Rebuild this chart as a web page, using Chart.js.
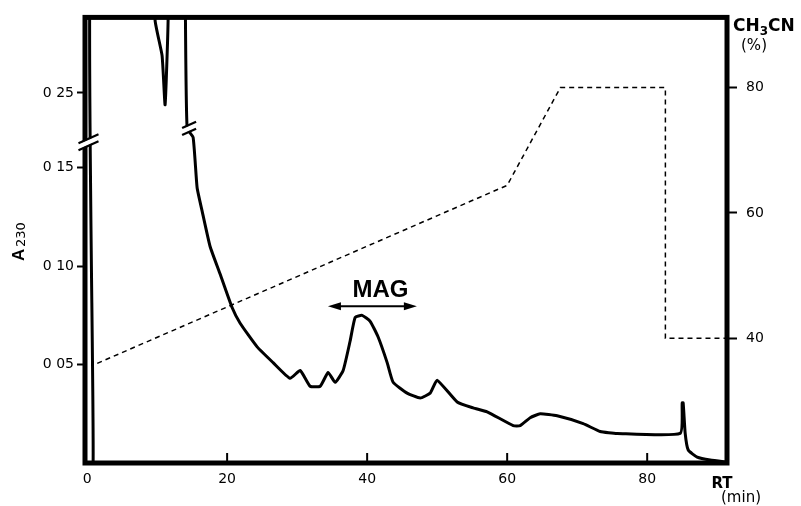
<!DOCTYPE html>
<html>
<head>
<meta charset="utf-8">
<script src="https://cdn.jsdelivr.net/npm/chart.js@4"></script>
<style>
  html, body { margin: 0; padding: 0; background: #fff; }
</style>
</head>
<body>
<canvas id="chart" width="801" height="506"></canvas>
<script>
// absorbance trace (values above the axis break are in plot space)
const rtMin = [0, 0.86, 0.86, 9.6, 9.71, 10.71, 11.14, 11.57, 11.6, 14.0,
  14.05, 14.29, 15.14, 15.71, 16.43, 17.57, 19.0, 20.71, 21.86, 24.29,
  26.57, 29.0, 30.43, 31.86, 33.29, 34.43, 35.43, 36.57, 37.57, 38.29,
  39.29, 40.43, 41.57, 42.86, 43.71, 45.71, 47.57, 49.0, 50.0, 52.86,
  55.14, 57.14, 60.86, 61.86, 63.29, 64.71, 67.14, 70.86, 73.29, 75.71,
  84.71, 85.0, 85.14, 85.43, 85.86, 87.14, 89.0, 91.4];
const a230 = [0, 0, 0.3, 0.3, 0.225, 0.207, 0.182, 0.225, 0.3, 0.3,
  0.225, 0.170, 0.1655, 0.140, 0.128, 0.110, 0.096, 0.079, 0.071, 0.059,
  0.051, 0.043, 0.047, 0.039, 0.039, 0.046, 0.041, 0.047, 0.062, 0.074,
  0.075, 0.072, 0.064, 0.051, 0.041, 0.0355, 0.033, 0.0355, 0.042, 0.031,
  0.028, 0.026, 0.019, 0.019, 0.023, 0.025, 0.024, 0.020, 0.016, 0.015,
  0.015, 0.0305, 0.0305, 0.015, 0.0066, 0.003, 0.0015, 0.0005];

// CH3CN gradient (%)
const gradRt = [1.45, 60, 67.6, 82.6, 82.6, 91.4];
const gradPct = [36, 64.4, 80, 80, 40, 40];

// ticks
const xTicks = [0, 20, 40, 60, 80];
const aTickValues = [0.05, 0.10, 0.15, 0.188]; // 0.25 sits above the break
const aTickLabels = ["0 05", "0 10", "0 15", "0 25"];
const pctTicks = [40, 60, 80];

const tickFont = { family: "DejaVu Sans", size: 14 };

function drawBreak(ctx, cx, cy, hw) {
  const s = 0.45 * hw;
  ctx.save();
  ctx.strokeStyle = "#fff";
  ctx.lineWidth = 5;
  ctx.beginPath();
  ctx.moveTo(cx - hw, cy + s);
  ctx.lineTo(cx + hw, cy - s);
  ctx.stroke();
  ctx.strokeStyle = "#000";
  ctx.lineWidth = 2.2;
  [-3.5, 3.5].forEach((d) => {
    ctx.beginPath();
    ctx.moveTo(cx - hw, cy + s + d);
    ctx.lineTo(cx + hw, cy - s + d);
    ctx.stroke();
  });
  ctx.restore();
}

const decorations = {
  id: "decorations",
  afterDatasetsDraw(chart) {
    const { ctx, chartArea: a, scales } = chart;
    const x = scales.x, y = scales.y;
    ctx.save();

    // frame
    ctx.strokeStyle = "#000";
    ctx.lineWidth = 5;
    ctx.strokeRect(a.left, a.top, a.right - a.left, a.bottom - a.top);

    // x ticks point into the plot
    ctx.lineWidth = 2;
    xTicks.slice(1).forEach((v) => {
      const px = x.getPixelForValue(v);
      ctx.beginPath();
      ctx.moveTo(px, a.bottom);
      ctx.lineTo(px, a.bottom - 10);
      ctx.stroke();
    });

    // axis breaks
    drawBreak(ctx, x.getPixelForValue(0.2), y.getPixelForValue(0.163), 10);
    drawBreak(ctx, x.getPixelForValue(14.57), y.getPixelForValue(0.17), 7);

    // MAG fraction marker
    ctx.fillStyle = "#000";
    ctx.font = "bold 24px 'Liberation Sans'";
    ctx.textAlign = "center";
    ctx.textBaseline = "middle";
    ctx.fillText("MAG", x.getPixelForValue(41.9), y.getPixelForValue(0.0878));
    const ay = y.getPixelForValue(0.0797);
    const ax1 = x.getPixelForValue(34.4), ax2 = x.getPixelForValue(47.1);
    ctx.lineWidth = 2;
    ctx.beginPath();
    ctx.moveTo(ax1 + 6, ay);
    ctx.lineTo(ax2 - 6, ay);
    ctx.stroke();
    [[ax1, 1], [ax2, -1]].forEach(([px, dir]) => {
      ctx.beginPath();
      ctx.moveTo(px, ay);
      ctx.lineTo(px + dir * 13, ay - 4);
      ctx.lineTo(px + dir * 13, ay + 4);
      ctx.closePath();
      ctx.fill();
    });

    // axis titles
    ctx.textAlign = "left";
    ctx.textBaseline = "alphabetic";
    ctx.save();
    ctx.translate(24, 261);
    ctx.rotate(-Math.PI / 2);
    ctx.font = "bold 17px 'Liberation Sans'";
    ctx.fillText("A", 0, 0);
    ctx.font = "13px 'DejaVu Sans'";
    ctx.fillText("230", 14, 1);
    ctx.restore();

    ctx.font = "bold 17px 'DejaVu Sans'";
    ctx.fillText("CH", 733, 31);
    const w = ctx.measureText("CH").width;
    ctx.font = "bold 12px 'DejaVu Sans'";
    ctx.fillText("3", 733 + w, 35);
    const w3 = ctx.measureText("3").width;
    ctx.font = "bold 17px 'DejaVu Sans'";
    ctx.fillText("CN", 733 + w + w3, 31);
    ctx.font = "15px 'DejaVu Sans'";
    ctx.textAlign = "center";
    ctx.fillText("(%)", 754, 50);

    ctx.font = "bold 15px 'DejaVu Sans'";
    ctx.fillText("RT", 722, 488);
    ctx.font = "15px 'DejaVu Sans'";
    ctx.fillText("(min)", 741, 502);
    ctx.restore();
  }
};

new Chart(document.getElementById("chart").getContext("2d"), {
  type: "line",
  data: {
    datasets: [
      {
        label: "A230",
        data: rtMin.map((t, i) => ({ x: t, y: a230[i] })),
        yAxisID: "y",
        borderColor: "#000",
        borderWidth: 3,
        pointRadius: 0,
        tension: 0.15,
      },
      {
        label: "CH3CN",
        data: gradRt.map((t, i) => ({ x: t, y: gradPct[i] })),
        yAxisID: "y1",
        borderColor: "#000",
        borderWidth: 1.5,
        borderDash: [5, 4],
        pointRadius: 0,
        tension: 0,
      },
    ],
  },
  options: {
    responsive: false,
    animation: false,
    layout: { padding: { top: 17, left: 0, right: 0, bottom: 0 } },
    plugins: { legend: { display: false }, tooltip: { enabled: false } },
    scales: {
      x: {
        type: "linear",
        min: -0.3,
        max: 91.4,
        afterBuildTicks: (s) => { s.ticks = xTicks.map((v) => ({ value: v })); },
        afterFit: (s) => { s.height = 43; },
        grid: { display: false },
        border: { display: false },
        ticks: { color: "#000", font: tickFont, padding: 0, maxRotation: 0 },
      },
      y: {
        position: "left",
        min: 0,
        max: 0.2264,
        afterBuildTicks: (s) => { s.ticks = aTickValues.map((v) => ({ value: v })); },
        afterFit: (s) => { s.width = 85; },
        grid: { drawOnChartArea: false, tickLength: 8, tickWidth: 2, color: "#000" },
        border: { display: false },
        ticks: {
          color: "#000",
          font: tickFont,
          padding: 3,
          callback: (v, i) => aTickLabels[i],
        },
      },
      y1: {
        position: "right",
        min: 20.1,
        max: 91.2,
        afterBuildTicks: (s) => { s.ticks = pctTicks.map((v) => ({ value: v })); },
        afterFit: (s) => { s.width = 74; },
        grid: { drawOnChartArea: false, tickLength: 10, tickWidth: 2, color: "#000" },
        border: { display: false },
        ticks: { color: "#000", font: tickFont, padding: 9 },
      },
    },
  },
  plugins: [decorations],
});
</script>
</body>
</html>
